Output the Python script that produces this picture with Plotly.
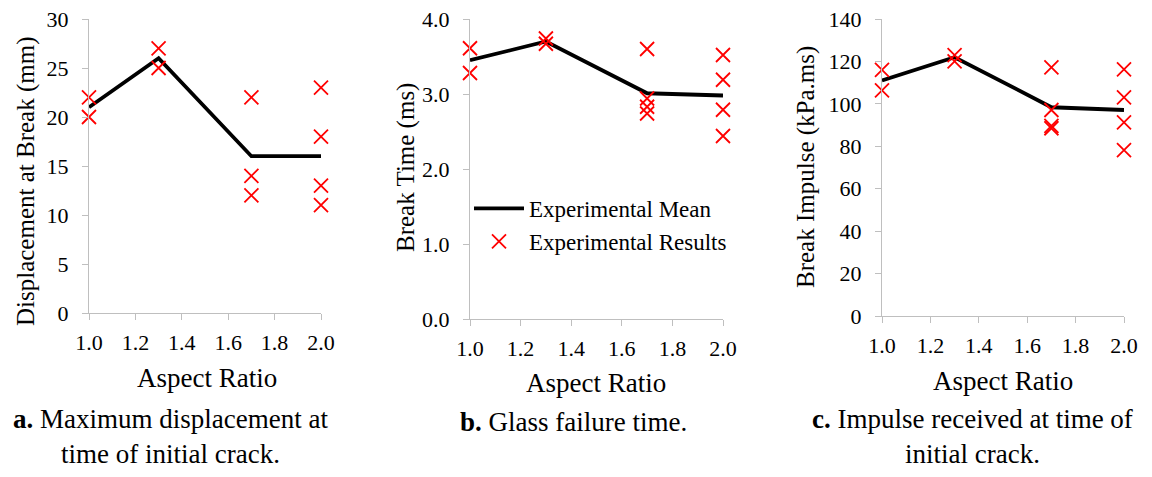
import plotly.graph_objects as go

# ---- data ----
aspect = [1.0, 1.3, 1.7, 2.0]

disp_mean = [21, 26, 16, 16]
disp_x = [1.0, 1.0, 1.3, 1.3, 1.7, 1.7, 1.7, 2.0, 2.0, 2.0, 2.0]
disp_y = [22, 20, 27, 25, 22, 14, 12, 23, 18, 13, 11]

time_mean = [3.45, 3.70, 3.01, 2.98]
time_x = [1.0, 1.0, 1.3, 1.3, 1.7, 1.7, 1.7, 1.7, 2.0, 2.0, 2.0, 2.0]
time_y = [3.61, 3.28, 3.74, 3.67, 3.60, 2.94, 2.83, 2.74, 3.52, 3.19, 2.79, 2.44]

imp_mean = [111, 122, 98.4, 97.1]
imp_x = [1.0, 1.0, 1.3, 1.3, 1.7, 1.7, 1.7, 1.7, 2.0, 2.0, 2.0, 2.0]
imp_y = [116, 106.4, 123, 120, 117.2, 97.1, 89.6, 88.5, 116.3, 103.1, 91.3, 78.2]

x_ticks = [1.0, 1.2, 1.4, 1.6, 1.8, 2.0]
x_tick_text = ["1.0", "1.2", "1.4", "1.6", "1.8", "2.0"]
disp_ticks = [0, 5, 10, 15, 20, 25, 30]
time_ticks = [0, 1, 2, 3, 4]
time_tick_text = ["0.0", "1.0", "2.0", "3.0", "4.0"]
imp_ticks = [0, 20, 40, 60, 80, 100, 120, 140]

y_titles = ["Displacement at Break (mm)", "Break Time (ms)", "Break Impulse (kPa.ms)"]
x_title = "Aspect Ratio"
captions = [
    "<b>a.</b> Maximum displacement at<br>time of initial crack.",
    "<b>b.</b> Glass failure time.",
    "<b>c.</b> Impulse received at time of<br>initial crack.",
]
legend_names = ["Experimental Mean", "Experimental Results"]

# ---- layout geometry ----
W, H = 1152, 477
FONT = "Times New Roman, Liberation Serif, serif"
AX = "#BFBFBF"

def px_x(p):
    return p / W

def px_y(p):
    return 1 - p / H

panels = [
    dict(x0=89, x1=321, y0=19, y1=313, mean=disp_mean, rx=disp_x, ry=disp_y,
         yr=[0, 30], yt=disp_ticks, ytt=[str(v) for v in disp_ticks],
         ytx=26, yty=182, xtx=207, xty=378),
    dict(x0=470, x1=723, y0=19, y1=319, mean=time_mean, rx=time_x, ry=time_y,
         yr=[0, 4], yt=time_ticks, ytt=time_tick_text,
         ytx=406, yty=168, xtx=596, xty=383),
    dict(x0=882, x1=1124, y0=19, y1=316, mean=imp_mean, rx=imp_x, ry=imp_y,
         yr=[0, 140], yt=imp_ticks, ytt=[str(v) for v in imp_ticks],
         ytx=806, yty=167, xtx=1003, xty=381),
]

fig = go.Figure()
layout = dict(
    template="none",
    width=W, height=H, margin=dict(l=0, r=0, t=0, b=0, autoexpand=False),
    paper_bgcolor="white", plot_bgcolor="white",
    font=dict(family=FONT, size=22, color="black"),
)
annotations = []

for i, p in enumerate(panels):
    n = "" if i == 0 else str(i + 1)
    xa, ya = "x" + n, "y" + n
    fig.add_trace(go.Scatter(
        x=aspect, y=p["mean"], mode="lines", xaxis=xa, yaxis=ya,
        line=dict(color="black", width=3.8), name=legend_names[0],
        showlegend=(i == 1), cliponaxis=False))
    fig.add_trace(go.Scatter(
        x=p["rx"], y=p["ry"], mode="markers", xaxis=xa, yaxis=ya,
        marker=dict(symbol="x-thin", size=14, line=dict(color="#FF0000", width=1.8)),
        name=legend_names[1], showlegend=(i == 1), cliponaxis=False))
    layout["xaxis" + n] = dict(
        domain=[px_x(p["x0"]), px_x(p["x1"])], anchor=ya, range=[1.0, 2.0],
        tickvals=x_ticks, ticktext=x_tick_text, ticks="outside", ticklen=6,
        tickcolor=AX, showline=True, linecolor=AX, linewidth=1.3, showgrid=False,
        zeroline=False, automargin=False, ticklabelstandoff=3,
        tickfont=dict(family=FONT, size=22, color="black"))
    layout["yaxis" + n] = dict(
        domain=[px_y(p["y1"]), px_y(p["y0"])], anchor=xa, range=p["yr"],
        tickvals=p["yt"], ticktext=p["ytt"], ticks="outside", ticklen=6,
        tickcolor=AX, showline=True, linecolor=AX, linewidth=1.3, showgrid=False,
        zeroline=False, automargin=False, ticklabelstandoff=9,
        tickfont=dict(family=FONT, size=22, color="black"))
    annotations.append(dict(
        text=y_titles[i], x=px_x(p["ytx"]), y=px_y(p["yty"]), xref="paper", yref="paper",
        textangle=-90, showarrow=False, font=dict(family=FONT, size=25),
        xanchor="center", yanchor="middle"))
    annotations.append(dict(
        text=x_title, x=px_x(p["xtx"]), y=px_y(p["xty"]), xref="paper", yref="paper",
        showarrow=False, font=dict(family=FONT, size=27),
        xanchor="center", yanchor="middle"))

cap_x = [170, 573, 972]
cap_y = [436, 422, 436]
for i, txt in enumerate(captions):
    annotations.append(dict(
        text=txt, x=px_x(cap_x[i]), y=px_y(cap_y[i]), xref="paper", yref="paper",
        showarrow=False, font=dict(family=FONT, size=27), xanchor="center",
        yanchor="middle", align="center"))

layout["annotations"] = annotations
layout["legend"] = dict(
    x=px_x(469), y=px_y(187), xanchor="left", yanchor="top",
    bgcolor="rgba(0,0,0,0)", font=dict(family=FONT, size=23), itemwidth=50,
    tracegroupgap=0)
layout["showlegend"] = True
fig.update_layout(**layout)

fig.write_html("out.html", post_script="document.body.style.margin='0px';",
               config={"displayModeBar": False})
